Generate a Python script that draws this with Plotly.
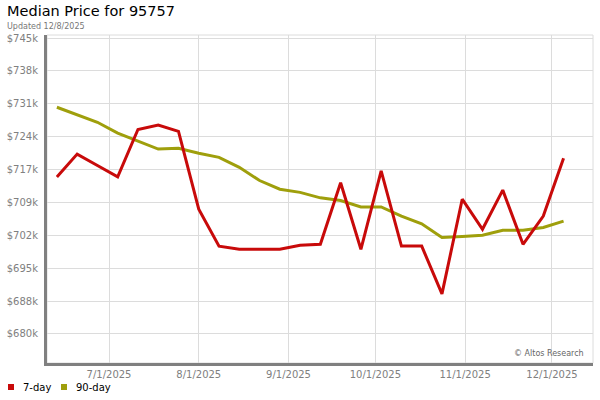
"""Median price chart: 7-day and 90-day rolling medians (weekly points)."""

import plotly.graph_objects as go

# weekly dates (Fridays)
DATES = [
    "2025-06-13", "2025-06-20", "2025-06-27", "2025-07-04", "2025-07-11",
    "2025-07-18", "2025-07-25", "2025-08-01", "2025-08-08", "2025-08-15",
    "2025-08-22", "2025-08-29", "2025-09-05", "2025-09-12", "2025-09-19",
    "2025-09-26", "2025-10-03", "2025-10-10", "2025-10-17", "2025-10-24",
    "2025-10-31", "2025-11-07", "2025-11-14", "2025-11-21", "2025-11-28",
    "2025-12-05",
]

MEDIAN_7DAY = [
    714500, 719500, 717000, 714500, 724900, 725900, 724500, 707400, 699300,
    698600, 698600, 698600, 699500, 699700, 713200, 698600, 715800, 699300,
    699300, 688800, 709600, 703000, 711600, 699700, 705900, 718600,
]

MEDIAN_90DAY = [
    729800, 728100, 726500, 724100, 722400, 720600, 720800, 719700, 718800,
    716600, 713700, 711800, 711100, 709900, 709300, 707900, 707900, 705900,
    704200, 701200, 701400, 701700, 702800, 702800, 703400, 704800,
]

SERIES_NAMES = ["7-day", "90-day"]

Y_TICK_VALS = [680000, 687222, 694444, 701667, 708889,
               716111, 723333, 730556, 737778, 745000]
Y_TICK_TEXT = ["$680k", "$688k", "$695k", "$702k", "$709k",
               "$717k", "$724k", "$731k", "$738k", "$745k"]

X_TICK_VALS = ["2025-07-01", "2025-08-01", "2025-09-01",
               "2025-10-01", "2025-11-01", "2025-12-01"]
X_TICK_TEXT = ["7/1/2025", "8/1/2025", "9/1/2025",
               "10/1/2025", "11/1/2025", "12/1/2025"]

RED = "#c80a0a"
OLIVE = "#9f9f0c"
FONT = "DejaVu Sans"

W, H = 600, 400
# plot box in pixels
L, R, T, B = 47, 593, 35, 363
PW, PH = R - L, B - T


def px_x(p):
    return (p - L) / PW


def px_y(p):
    return (B - p) / PH


fig = go.Figure()

# 90-day underneath, 7-day on top
fig.add_trace(go.Scatter(
    x=DATES, y=MEDIAN_90DAY, mode="lines",
    line=dict(color=OLIVE, width=3), showlegend=False, name=SERIES_NAMES[1],
))
fig.add_trace(go.Scatter(
    x=DATES, y=MEDIAN_7DAY, mode="lines",
    line=dict(color=RED, width=3), showlegend=False, name=SERIES_NAMES[0],
))

# light frame on top / right
fig.add_shape(
    type="rect", xref="paper", yref="paper", x0=0, x1=1, y0=0, y1=1,
    line=dict(color="#dcdcdc", width=1), layer="below",
)

# legend below the plot: small squares + labels
for nm, col, sx in zip(SERIES_NAMES, [RED, OLIVE], [8, 61]):
    fig.add_shape(
        type="rect", xref="paper", yref="paper",
        x0=px_x(sx), x1=px_x(sx + 6), y0=px_y(390), y1=px_y(384),
        fillcolor=col, line=dict(width=0),
    )
    fig.add_annotation(
        xref="paper", yref="paper", x=px_x(sx + 13), y=px_y(387),
        xanchor="left", yanchor="middle", showarrow=False,
        text=nm, font=dict(family=FONT, size=10, color="#000000"),
    )

fig.update_xaxes(
    type="date",
    range=["2025-06-09 14:00", "2025-12-15 04:00"],
    tickvals=X_TICK_VALS,
    ticktext=X_TICK_TEXT,
    showgrid=True,
    gridcolor="#dcdcdc",
    gridwidth=1,
    zeroline=False,
    showline=True,
    linecolor="#808080",
    linewidth=3,
    ticks="",
    automargin=False,
    tickfont=dict(family=FONT, size=10, color="#808080"),
    fixedrange=True,
)
fig.update_yaxes(
    range=[673630, 745660],
    tickvals=Y_TICK_VALS,
    ticktext=Y_TICK_TEXT,
    showgrid=True,
    gridcolor="#dcdcdc",
    gridwidth=1,
    zeroline=False,
    showline=True,
    linecolor="#808080",
    linewidth=3,
    ticks="",
    ticklabelstandoff=4,
    automargin=False,
    tickfont=dict(family=FONT, size=10, color="#808080"),
    fixedrange=True,
)

fig.add_annotation(
    xref="paper", yref="paper", x=px_x(6), y=px_y(11),
    xanchor="left", yanchor="middle", showarrow=False, borderpad=0,
    text="Median Price for 95757", font=dict(family=FONT, size=14.5, color="#000000"),
)
fig.add_annotation(
    xref="paper", yref="paper", x=px_x(6), y=px_y(26),
    xanchor="left", yanchor="middle", showarrow=False, borderpad=0,
    text="Updated 12/8/2025", font=dict(family=FONT, size=8, color="#777777"),
)
fig.add_annotation(
    xref="paper", yref="paper", x=px_x(586), y=px_y(353),
    xanchor="right", yanchor="middle", showarrow=False,
    text="© Altos Research", font=dict(family=FONT, size=8, color="#666666"),
)

fig.update_layout(
    width=W,
    height=H,
    font=dict(family=FONT),
    paper_bgcolor="white",
    plot_bgcolor="white",
    margin=dict(l=L, r=W - R, t=T, b=H - B, autoexpand=False),
    showlegend=False,
    hovermode="closest",
    dragmode=False,
)

# the page's default 8px body margin would push the 600x400 figure off-window
fig.write_html(
    "out.html",
    config={"displayModeBar": False},
    post_script="document.body.style.margin = '0';",
)
